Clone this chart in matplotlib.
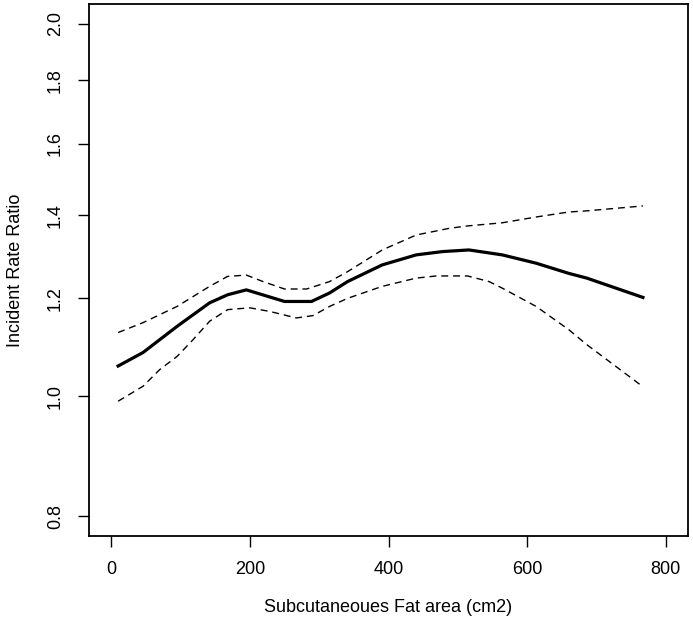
import numpy as np
import matplotlib
matplotlib.use("Agg")
import matplotlib.pyplot as plt
from matplotlib.ticker import FixedLocator, FixedFormatter, NullLocator

plt.rcParams['font.family'] = ['Liberation Sans', 'DejaVu Sans']

# Estimated spline (IRR) and 95% CI
fat_area = [10, 46, 95, 142, 168, 195, 250, 289, 315, 341, 391, 440, 478, 516, 564, 613, 660, 686, 767]
irr      = [1.058, 1.085, 1.139, 1.190, 1.208, 1.219, 1.193, 1.193, 1.212, 1.238, 1.277, 1.301, 1.309, 1.313, 1.301, 1.281, 1.257, 1.246, 1.202]

upper_x = [10, 46, 95, 142, 168, 195, 219, 250, 282, 315, 341, 391, 440, 488, 514, 564, 613, 660, 686, 767]
upper   = [1.126, 1.147, 1.182, 1.227, 1.250, 1.253, 1.238, 1.221, 1.221, 1.238, 1.261, 1.313, 1.350, 1.367, 1.373, 1.381, 1.396, 1.409, 1.412, 1.425]

lower_x = [10, 46, 70, 95, 118, 142, 168, 200, 229, 267, 291, 315, 341, 391, 440, 469, 514, 545, 564, 613, 660, 686, 767]
lower   = [0.991, 1.019, 1.051, 1.077, 1.111, 1.150, 1.175, 1.179, 1.171, 1.157, 1.162, 1.182, 1.200, 1.227, 1.246, 1.251, 1.251, 1.238, 1.223, 1.182, 1.132, 1.101, 1.018]

x_ticks = [0, 200, 400, 600, 800]
y_ticks = [0.8, 1.0, 1.2, 1.4, 1.6, 1.8, 2.0]
y_tick_labels = ["0.8", "1.0", "1.2", "1.4", "1.6", "1.8", "2.0"]

W, H = 693, 628
fig = plt.figure(figsize=(W / 100, H / 100), dpi=100)
ax = fig.add_axes([89 / W, 1 - 536 / H, (688 - 89) / W, (536 - 4) / H])

ax.plot(fat_area, irr, color='black', lw=2.3, solid_joinstyle='round')
ax.plot(upper_x, upper, color='black', lw=1.0, linestyle=(0, (5, 3.5)))
ax.plot(lower_x, lower, color='black', lw=1.0, linestyle=(0, (5, 3.5)))

ax.set_yscale('log')
# R-style 4% expansion
xr = 800 * 0.04
ax.set_xlim(0 - xr, 800 + xr)
lo, hi = np.log(0.8), np.log(2.0)
d = (hi - lo) * 0.04
ax.set_ylim(np.exp(lo - d), np.exp(hi + d))

ax.xaxis.set_major_locator(FixedLocator(x_ticks))
ax.yaxis.set_major_locator(FixedLocator(y_ticks))
ax.yaxis.set_major_formatter(FixedFormatter(y_tick_labels))
ax.yaxis.set_minor_locator(NullLocator())

ax.tick_params(axis='both', direction='out', length=8, width=1.0, labelsize=13, pad=10, colors='black')
for lab in ax.get_yticklabels():
    lab.set_rotation(90)
    lab.set_va('center')
for s in ax.spines.values():
    s.set_linewidth(1.3)

fig.text(388 / W, 1 - 608 / H, "Subcutaneoues Fat area (cm2)", ha='center', va='center', fontsize=13)
fig.text(16 / W, 1 - 270 / H, "Incident Rate Ratio", ha='center', va='center', rotation=90, fontsize=13)

fig.savefig("out.png", dpi=100)
